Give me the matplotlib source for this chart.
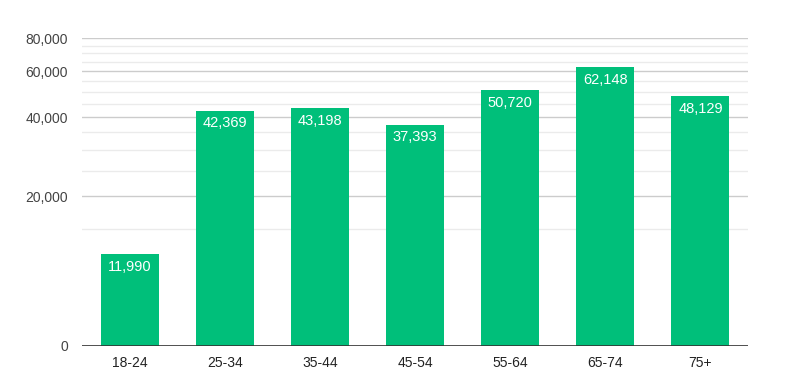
import matplotlib.pyplot as plt

plt.rcParams['font.family'] = ['Liberation Sans', 'DejaVu Sans']

# data
age_groups = ['18-24', '25-34', '35-44', '45-54', '55-64', '65-74', '75+']
values = [11990, 42369, 43198, 37393, 50720, 62148, 48129]

major_ticks = [0, 20000, 40000, 60000, 80000]
minor_ticks = [15000, 25000, 30000, 35000, 45000, 50000, 55000, 65000, 70000, 75000]

bar_color = '#00bf7a'

fig = plt.figure(figsize=(7.86, 3.79), dpi=100)
ax = fig.add_axes([0.1043, 0.0871, 0.8474, 0.8119])

# mirror-log style axis: linear near zero, log above
ax.set_yscale('symlog', linthresh=10000, linscale=0.243)
ax.set_ylim(0, 80000)
ax.set_xlim(-0.5, len(age_groups) - 0.5)

x = list(range(len(age_groups)))
bars = ax.bar(x, values, width=0.61, color=bar_color, zorder=3)

for xi, v in zip(x, values):
    ax.annotate(f'{v:,}', xy=(xi, v), xytext=(0, -4), textcoords='offset points',
                ha='center', va='top', color='white', fontsize=10.5, zorder=4)

ax.set_yticks(major_ticks)
ax.set_yticklabels([f'{t:,}' for t in major_ticks])
ax.set_yticks(minor_ticks, minor=True)
ax.set_xticks(x)
ax.set_xticklabels(age_groups)

ax.grid(axis='y', which='major', color='#cccccc', linewidth=1, zorder=0)
ax.grid(axis='y', which='minor', color='#ebebeb', linewidth=1, zorder=0)
ax.axhline(0, color='#333333', linewidth=1.2, zorder=5)

for s in ax.spines.values():
    s.set_visible(False)
ax.tick_params(axis='y', which='both', length=0, pad=10, labelsize=10, labelcolor='#444444')
ax.tick_params(axis='x', length=0, pad=7, labelsize=10, labelcolor='#222222')

fig.savefig('out.png', dpi=100)
